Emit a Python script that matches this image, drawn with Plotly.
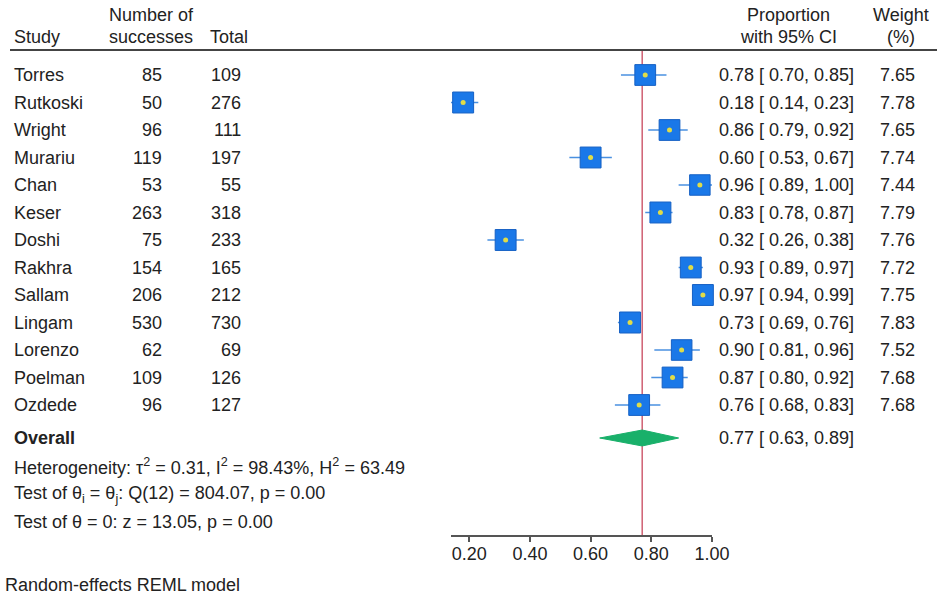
import plotly.graph_objects as go

studies = ["Torres", "Rutkoski", "Wright", "Murariu", "Chan", "Keser", "Doshi",
           "Rakhra", "Sallam", "Lingam", "Lorenzo", "Poelman", "Ozdede"]
successes = [85, 50, 96, 119, 53, 263, 75, 154, 206, 530, 62, 109, 96]
totals = [109, 276, 111, 197, 55, 318, 233, 165, 212, 730, 69, 126, 127]
prop = [0.78, 0.18, 0.86, 0.60, 0.96, 0.83, 0.32, 0.93, 0.97, 0.73, 0.90, 0.87, 0.76]
ci_lo = [0.70, 0.14, 0.79, 0.53, 0.89, 0.78, 0.26, 0.89, 0.94, 0.69, 0.81, 0.80, 0.68]
ci_hi = [0.85, 0.23, 0.92, 0.67, 1.00, 0.87, 0.38, 0.97, 0.99, 0.76, 0.96, 0.92, 0.83]
weights = [7.65, 7.78, 7.65, 7.74, 7.44, 7.79, 7.76, 7.72, 7.75, 7.83, 7.52, 7.68, 7.68]
overall = (0.77, 0.63, 0.89)
tick_vals = [0.2, 0.4, 0.6, 0.8, 1.0]
tick_labels = ["0.20", "0.40", "0.60", "0.80", "1.00"]
het_lines = [
    "Heterogeneity: τ<sup>2</sup> = 0.31, I<sup>2</sup> = 98.43%, H<sup>2</sup> = 63.49",
    "Test of θ<sub>i</sub> = θ<sub>j</sub>: Q(12) = 804.07, p = 0.00",
    "Test of θ = 0: z = 13.05, p = 0.00",
]

W, H = 942, 598
FONT = "Liberation Sans, Arial, Helvetica, sans-serif"
TXT = "#222222"
FS = 18

rows = list(range(1, len(studies) + 1))
over_row = len(studies) + 1.2
het_rows = [over_row + 1.02 + 1.02 * i for i in range(len(het_lines))]

# y axis in "row" units: px = 47.5 + 27.5 * v
def px_to_v(px):
    return (px - 47.5) / 27.5

fig = go.Figure()

# CI lines
cx, cy = [], []
for r, l, h in zip(rows, ci_lo, ci_hi):
    cx += [l, h, None]
    cy += [r, r, None]
fig.add_trace(go.Scatter(x=cx, y=cy, mode="lines",
                         line=dict(color="#4a90e0", width=1.5),
                         hoverinfo="skip", showlegend=False))

# overall diamond
dh = 0.29
est, olo, ohi = overall
fig.add_trace(go.Scatter(x=[olo, est, ohi, est, olo],
                         y=[over_row, over_row - dh, over_row, over_row + dh, over_row],
                         mode="lines", fill="toself", fillcolor="#19b06a",
                         line=dict(color="#19b06a", width=1),
                         hoverinfo="skip", showlegend=False))

# squares
maxw = max(weights)
sizes = [21 * (w / maxw) ** 0.5 for w in weights]
fig.add_trace(go.Scatter(x=prop, y=rows, mode="markers", opacity=1,
                         marker=dict(symbol="square", size=sizes, color="#1a78e8", opacity=1,
                                     line=dict(color="#1560c4", width=1)),
                         cliponaxis=False, hoverinfo="skip", showlegend=False))
fig.add_trace(go.Scatter(x=prop, y=rows, mode="markers", opacity=1,
                         marker=dict(symbol="circle", size=5, color="#e0dc48", opacity=1),
                         cliponaxis=False, hoverinfo="skip", showlegend=False))

ann = []
def add(text, xpx, y, anchor="left", yref="y", bold=False):
    ann.append(dict(text=f"<b>{text}</b>" if bold else text, x=xpx / W, xref="paper",
                    y=y, yref=yref, xanchor=anchor, yanchor="middle",
                    showarrow=False, font=dict(family=FONT, size=FS, color=TXT)))

# headers
add("Number of", 151, px_to_v(15), "center")
add("Study", 12, px_to_v(37))
add("successes", 151, px_to_v(37), "center")
add("Total", 208, px_to_v(37))
add("Proportion", 788, px_to_v(15), "center")
add("with 95% CI", 788, px_to_v(37), "center")
add("Weight", 901, px_to_v(15), "center")
add("(%)", 901, px_to_v(37), "center")

for r, s, n, t, p, l, h, w in zip(rows, studies, successes, totals, prop, ci_lo, ci_hi, weights):
    add(s, 12, r)
    add(str(n), 164, r, "right")
    add(str(t), 243, r, "right")
    add(f"{p:.2f} [ {l:.2f}, {h:.2f}]", 717, r)
    add(f"{w:.2f}", 917, r, "right")

add("Overall", 12, over_row, bold=True)
add(f"{est:.2f} [ {olo:.2f}, {ohi:.2f}]", 717, over_row)
for r, t in zip(het_rows, het_lines):
    add(t, 12, r)
add("Random-effects REML model", 3, 1 - 585 / H, yref="paper")

shapes = [
    dict(type="line", xref="paper", yref="y", x0=10 / W, x1=937 / W,
         y0=px_to_v(50), y1=px_to_v(50), line=dict(color="#444444", width=2)),
    dict(type="line", xref="x", yref="y", x0=est, x1=est,
         y0=px_to_v(50), y1=px_to_v(535), line=dict(color="#cf5f72", width=1.5),
         layer="below"),
]

fig.update_layout(
    width=W, height=H, autosize=False,
    margin=dict(l=0, r=0, t=0, b=0, pad=0, autoexpand=False),
    paper_bgcolor="white", plot_bgcolor="white",
    annotations=ann, shapes=shapes,
    xaxis=dict(domain=[451 / W, 712 / W], range=[0.14, 1.0], showgrid=False,
               automargin=False,
               zeroline=False, showline=True, linecolor="#555555", linewidth=1.5,
               ticks="outside", ticklen=5, tickcolor="#555555", tickwidth=1.5,
               ticklabelstandoff=-3,
               tickvals=tick_vals, ticktext=tick_labels,
               tickfont=dict(family=FONT, size=FS, color=TXT)),
    yaxis=dict(domain=[(H - 535) / H, 1], range=[px_to_v(535), px_to_v(0)],
               automargin=False,
               showgrid=False, zeroline=False, showticklabels=False, showline=False),
)

fig.write_html("out.html",
               config={"responsive": False, "displayModeBar": False},
               post_script=("document.documentElement.style.margin='0px';"
                            "document.documentElement.style.overflow='hidden';"
                            "document.body.style.margin='0px';"
                            "document.body.style.padding='0px';"
                            "document.body.style.overflow='hidden';"))
